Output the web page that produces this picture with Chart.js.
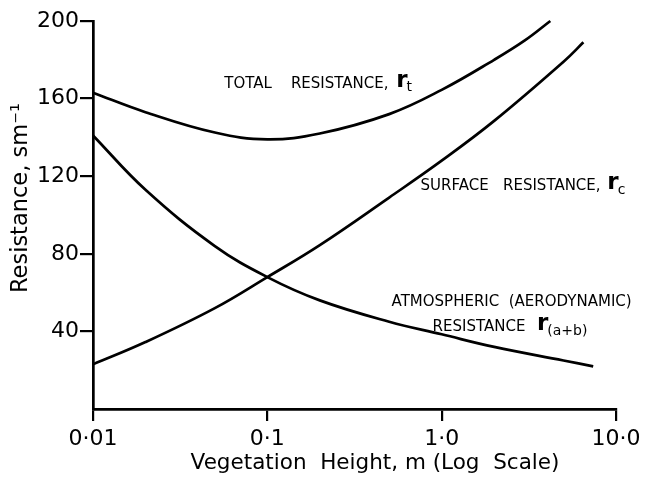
<!DOCTYPE html>
<html>
<head>
<meta charset="utf-8">
<script src="https://cdn.jsdelivr.net/npm/chart.js@4.4.1/dist/chart.umd.min.js"></script>
<style>
  html, body { margin: 0; padding: 0; background: #fff; }
  #wrap { width: 650px; height: 477px; }
</style>
</head>
<body>
<div id="wrap"><canvas id="chart"></canvas></div>
<script>
// values (height in m, resistance in s m-1)
const totalHeight = [0.01, 0.02, 0.05, 0.1, 0.2, 0.5, 1, 2, 3, 4.2];
const totalRes = [163, 153, 142.5, 139, 142, 152, 164.5, 180, 190, 200];

const surfaceHeight = [0.01, 0.02, 0.05, 0.1, 0.2, 0.5, 1, 2, 5, 6.5];
const surfaceRes = [23, 34.5, 52, 68, 84.5, 109, 128, 148.5, 179, 189];

const atmHeight = [0.01, 0.02, 0.05, 0.1, 0.2, 0.5, 1, 2, 5, 7.4];
const atmRes = [141, 113, 84, 68, 56, 45, 38.5, 32, 25, 22];

const xTicks = [0.01, 0.1, 1, 10];
const xTickLabels = ['0·01', '0·1', '1·0', '10·0'];
const yTicks = [0, 40, 80, 120, 160, 200];

const FONT = '"DejaVu Sans", sans-serif';

function pts(xs, ys) {
  return xs.map((x, i) => ({ x: x, y: ys[i] }));
}

function lineSet(label, xs, ys) {
  return {
    label: label,
    data: pts(xs, ys),
    borderColor: '#000',
    borderWidth: 2.7,
    pointRadius: 0,
    fill: false,
    tension: 0.4,
    clip: false
  };
}

// curve labels and axis titles
const labelPlugin = {
  id: 'labels',
  afterDraw(chart) {
    const ctx = chart.ctx;
    const xs = chart.scales.x, ys = chart.scales.y;
    const px = v => xs.getPixelForValue(v);
    const py = v => ys.getPixelForValue(v);
    ctx.save();
    ctx.fillStyle = '#000';
    ctx.textBaseline = 'middle';

    function caps(text, x, y) {
      ctx.font = '15px ' + FONT;
      ctx.textAlign = 'left';
      ctx.fillText(text, x, y);
      return x + ctx.measureText(text).width;
    }
    function rSym(sub, x, y) {
      ctx.font = 'bold 23px ' + FONT;
      ctx.textAlign = 'left';
      ctx.fillText('r', x, y - 3);
      const w = ctx.measureText('r').width;
      ctx.font = '14px ' + FONT;
      ctx.fillText(sub, x + w - 1, y + 4);
    }

    let e = caps('TOTAL    RESISTANCE, ', px(0.0566), py(167.7));
    rSym('t', e + 3, py(167.7));

    e = caps('SURFACE   RESISTANCE, ', px(0.757), py(114.7));
    rSym('c', e + 2, py(114.7));

    caps('ATMOSPHERIC  (AERODYNAMIC)', px(0.516), py(55));
    e = caps('RESISTANCE  ', px(0.887), py(42.2));
    rSym('(a+b)', e + 2, py(42.2));

    // axis titles
    ctx.font = '21.5px ' + FONT;
    ctx.textAlign = 'center';
    ctx.fillText('Vegetation  Height, m (Log  Scale)', 375, 463);

    ctx.font = '22.5px ' + FONT;
    ctx.translate(21, 198);
    ctx.rotate(-Math.PI / 2);
    ctx.fillText('Resistance, sm\u207B\u00B9', 0, 0);
    ctx.restore();
  }
};

new Chart(document.getElementById('chart'), {
  type: 'line',
  data: {
    datasets: [
      lineSet('Total resistance', totalHeight, totalRes),
      lineSet('Surface resistance', surfaceHeight, surfaceRes),
      lineSet('Atmospheric resistance', atmHeight, atmRes)
    ]
  },
  options: {
    responsive: true,
    maintainAspectRatio: false,
    animation: false,
    layout: { padding: { top: 21, right: 34, left: 0, bottom: 0 } },
    plugins: {
      legend: { display: false },
      tooltip: { enabled: false }
    },
    scales: {
      x: {
        type: 'logarithmic',
        min: 0.01,
        max: 10,
        afterBuildTicks: s => { s.ticks = xTicks.map(v => ({ value: v })); },
        afterFit: s => { s.height = 68; },
        ticks: {
          color: '#000',
          font: { family: FONT, size: 22 },
          padding: 5,
          maxRotation: 0,
          autoSkip: false,
          callback: v => xTickLabels[xTicks.indexOf(v)]
        },
        grid: {
          drawOnChartArea: false,
          drawTicks: true,
          tickLength: 12,
          color: '#000',
          lineWidth: 2.2
        },
        border: { color: '#000', width: 2.7 }
      },
      y: {
        min: 0,
        max: 200,
        afterBuildTicks: s => { s.ticks = yTicks.map(v => ({ value: v })); },
        afterFit: s => { s.width = 93; },
        ticks: {
          color: '#000',
          font: { family: FONT, size: 22 },
          padding: 1,
          callback: v => (v === 0 ? '' : String(v))
        },
        grid: {
          drawOnChartArea: false,
          drawTicks: true,
          tickLength: 13,
          color: c => (c.tick && c.tick.value === 0 ? 'rgba(0,0,0,0)' : '#000'),
          lineWidth: 2.2
        },
        border: { color: '#000', width: 2.7 }
      }
    }
  },
  plugins: [labelPlugin]
});
</script>
</body>
</html>
